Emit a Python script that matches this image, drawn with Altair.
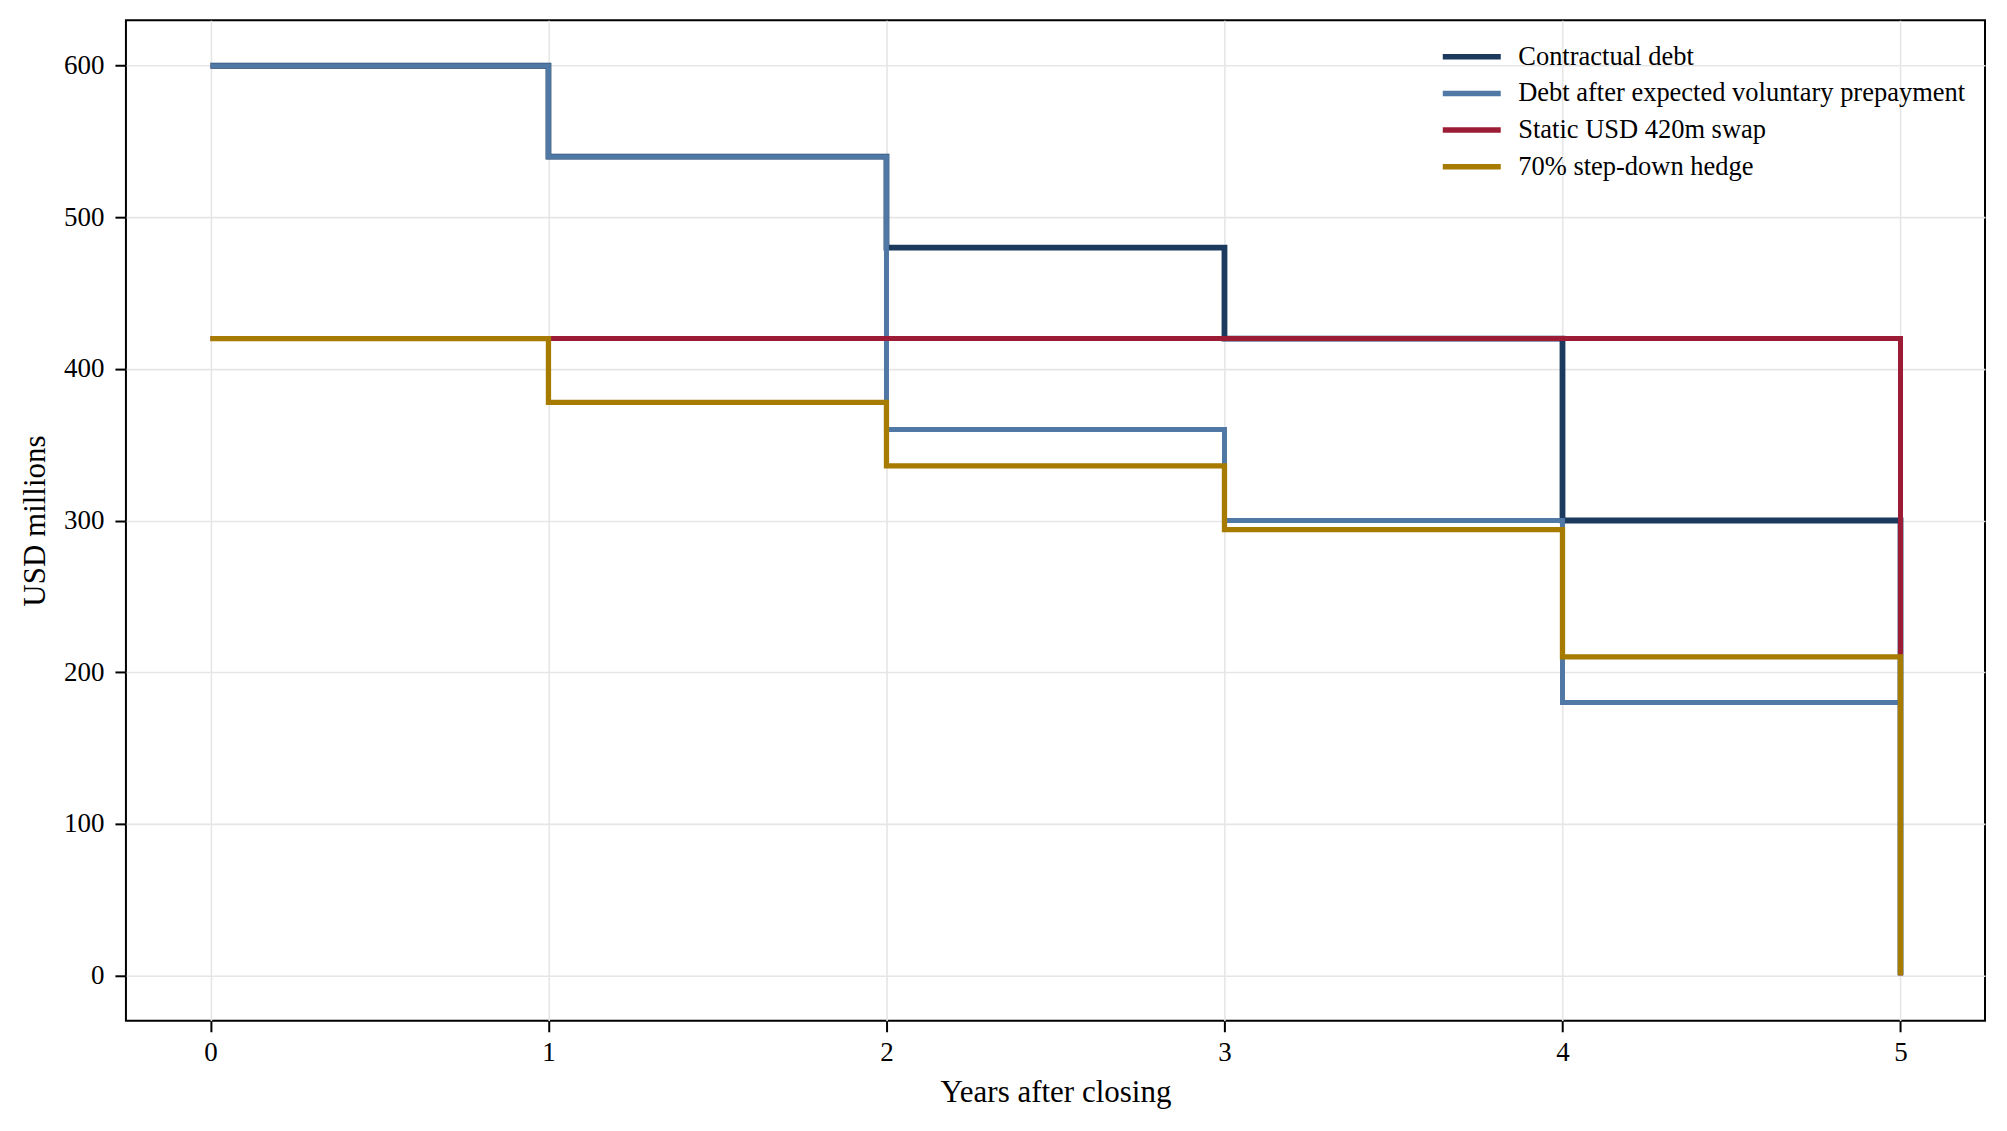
import altair as alt
import pandas as pd

years = [0, 1, 2, 3, 4, 5]
contractual = [600, 540, 480, 420, 300, 0]
prepayment = [600, 540, 360, 300, 180, 0]
static_swap = [420, 420, 420, 420, 420, 0]
step_down = [420, 378, 336, 294, 210, 0]

series_names = [
    "Contractual debt",
    "Debt after expected voluntary prepayment",
    "Static USD 420m swap",
    "70% step-down hedge",
]
series_values = [contractual, prepayment, static_swap, step_down]
colors = ["#1b3a5e", "#4f78a4", "#9c1c36", "#a67b00"]
widths = [5.8, 5.0, 5.0, 5.3]

rows = []
for name, vals in zip(series_names, series_values):
    for yr, v in zip(years, vals):
        rows.append({"series": name, "year": yr, "value": v})
df = pd.DataFrame(rows)

FONT = "Liberation Serif"

xscale = alt.Scale(domain=[-0.25, 5.25], nice=False, zero=False)
yscale = alt.Scale(domain=[-30, 630], nice=False, zero=False)
cscale = alt.Scale(domain=series_names, range=colors)

layers = []
for i, (name, w) in enumerate(zip(series_names, widths)):
    layer = (
        alt.Chart(df)
        .transform_filter(alt.datum.series == name)
        .mark_line(interpolate="step-after", strokeWidth=w, strokeJoin="miter", strokeCap="butt")
        .encode(
            x=alt.X("year:Q", scale=xscale,
                    axis=alt.Axis(values=years, title="Years after closing", format="d")),
            y=alt.Y("value:Q", scale=yscale,
                    axis=alt.Axis(values=[0, 100, 200, 300, 400, 500, 600], title="USD millions")),
            color=alt.Color(
                "series:N", scale=cscale,
                legend=alt.Legend(
                    title=None, orient="none", legendX=1329, legendY=19,
                    symbolType="M-2,0H2", symbolSize=841, symbolStrokeWidth=5.5,
                    symbolFillColor="transparent",
                    labelFont=FONT, labelFontSize=26.5, labelColor="black",
                    labelOffset=29, rowPadding=5.7, padding=0, labelLimit=800,
                ),
            ),
        )
    )
    layers.append(layer)

chart = (
    alt.layer(*layers)
    .properties(width=1860, height=1001,
                autosize=alt.AutoSizeParams(type="none"),
                padding={"left": 118, "top": 12, "right": 14, "bottom": 100})
    .configure_view(stroke="black", strokeWidth=2)
    .configure_axis(
        domain=False,
        grid=True, gridColor="#e6e6e6", gridWidth=1.6,
        ticks=True, tickColor="black", tickWidth=2, tickSize=11,
        labelFont=FONT, labelFontSize=27, labelColor="black",
        titleFont=FONT, titleFontSize=31, titleFontWeight="normal", titleColor="black",
    )
    .configure_axisX(titlePadding=12, labelPadding=8)
    .configure_axisY(titlePadding=11.5, labelPadding=11)
)

chart.save("out.html", embed_options={"renderer": "svg", "actions": False})
